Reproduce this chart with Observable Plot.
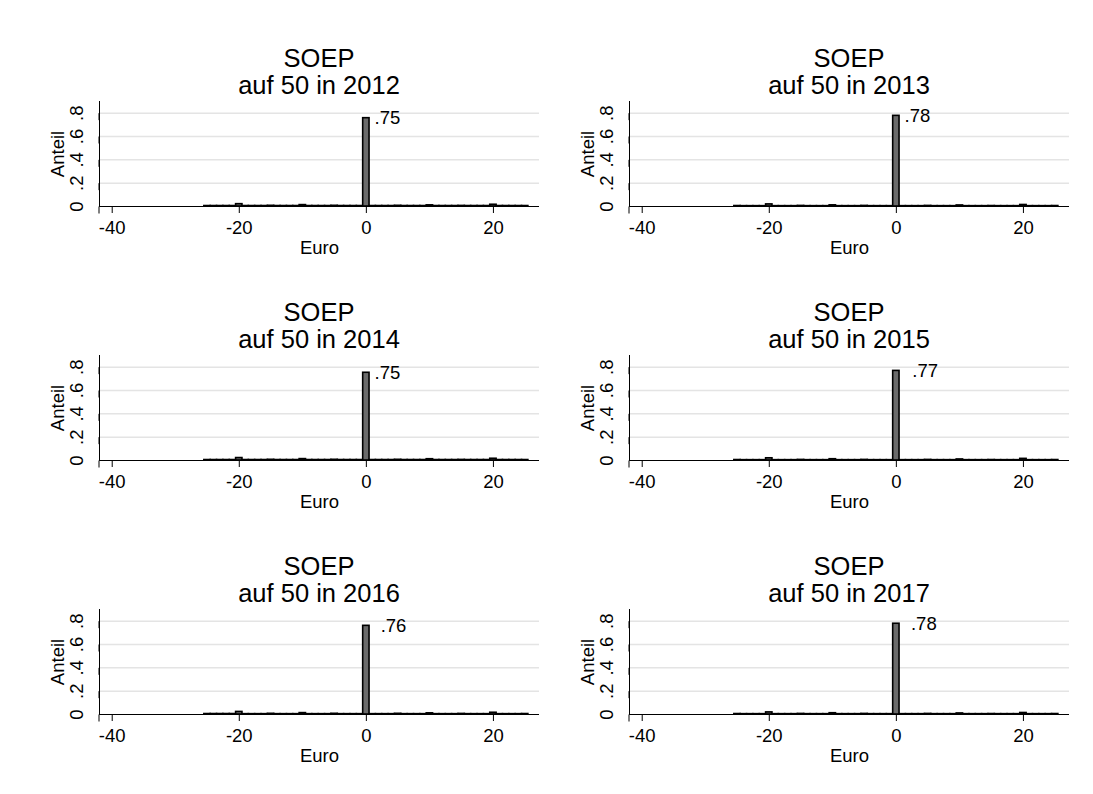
<!DOCTYPE html>
<html><head><meta charset="utf-8">
<script src="https://cdn.jsdelivr.net/npm/d3@7"></script>
<script src="https://cdn.jsdelivr.net/npm/@observablehq/plot@0.6"></script>
<style>
body{margin:0;background:#fff;}
#chart{position:relative;width:1093px;height:794px;background:#fff;font-family:"Liberation Sans",Arial,sans-serif;overflow:hidden;}
.title{position:absolute;width:400px;text-align:center;font-size:25.5px;line-height:27px;color:#000;}
.panel{position:absolute;}
.panel svg{overflow:visible;}
</style></head><body><div id="chart"></div>
<script>
const years = [2012, 2013, 2014, 2015, 2016, 2017];
const titleTop = "SOEP";
const subtitlePrefix = "auf 50 in ";
const euro = [-25,-24,-23,-22,-21,-20,-19,-18,-17,-16,-15,-14,-13,-12,-11,-10,-9,-8,-7,-6,-5,-4,-3,-2,-1,
  0,1,2,3,4,5,6,7,8,9,10,11,12,13,14,15,16,17,18,19,20,21,22,23,24,25];
const share2012 = [.004,.004,.004,.004,.004, .020,.004,.004,.004,.004, .006,.004,.004,.004,.004, .012,.004,.004,.004,.004, .006,.004,.004,.004,.004,
  .757, .004,.004,.004,.004,.006, .004,.004,.004,.004,.010, .004,.004,.004,.004,.005, .004,.004,.004,.004,.015, .004,.004,.004,.004,.004];
const share2013 = [.004,.003,.003,.003,.003, .018,.003,.003,.003,.003, .005,.003,.003,.003,.003, .010,.003,.003,.003,.003, .005,.003,.003,.003,.003,
  .777, .003,.003,.003,.003,.005, .003,.003,.003,.003,.009, .003,.003,.003,.003,.004, .003,.003,.003,.003,.013, .003,.003,.003,.003,.004];
const share2014 = [.004,.004,.004,.004,.004, .021,.004,.004,.004,.004, .006,.004,.004,.004,.004, .012,.004,.004,.004,.004, .006,.004,.004,.004,.004,
  .752, .004,.004,.004,.004,.006, .004,.004,.004,.004,.011, .004,.004,.004,.004,.005, .004,.004,.004,.004,.015, .004,.004,.004,.004,.004];
const share2015 = [.004,.003,.003,.003,.003, .019,.003,.003,.003,.003, .005,.003,.003,.003,.003, .011,.003,.003,.003,.003, .005,.003,.003,.003,.003,
  .768, .003,.003,.003,.003,.005, .003,.003,.003,.003,.009, .003,.003,.003,.003,.004, .003,.003,.003,.003,.014, .003,.003,.003,.003,.004];
const share2016 = [.004,.004,.004,.004,.004, .022,.003,.003,.003,.003, .006,.003,.003,.003,.003, .012,.003,.003,.003,.003, .006,.003,.003,.003,.003,
  .760, .003,.003,.003,.003,.006, .003,.003,.003,.003,.010, .003,.003,.003,.003,.005, .003,.003,.003,.003,.015, .003,.003,.003,.003,.004];
const share2017 = [.004,.003,.003,.003,.003, .018,.003,.003,.003,.003, .005,.003,.003,.003,.003, .011,.003,.003,.003,.003, .005,.003,.003,.003,.003,
  .778, .003,.003,.003,.003,.005, .003,.003,.003,.003,.009, .003,.003,.003,.003,.004, .003,.003,.003,.003,.013, .003,.003,.003,.003,.004];
const shares = [share2012, share2013, share2014, share2015, share2016, share2017];
const peakLabels = [".75", ".78", ".75", ".77", ".76", ".78"];
const labelX = [1.3, 1.3, 1.3, 2.5, 2.25, 2.3];
const xTicks = [-40, -20, 0, 20];
const yTicks = [0, .2, .4, .6, .8];
const yTickLabels = ["0", ".2", ".4", ".6", ".8"];
const xDomain = [-42, 27.25];
const yDomain = [0, 0.9];

const chart = document.getElementById("chart");
const colLeft = [0, 530];
const rowTop = [95, 349, 603];
const titleRowTop = [45, 299, 553];

years.forEach((yr, i) => {
  const col = i % 2, row = Math.floor(i / 2);
  const t = document.createElement("div");
  t.className = "title";
  t.style.left = (colLeft[col] + 319 - 200) + "px";
  t.style.top = titleRowTop[row] + "px";
  t.innerHTML = titleTop + "<br>" + subtitlePrefix + yr;
  chart.appendChild(t);

  const data = euro.map((x, j) => ({x, share: shares[i][j]}));
  const peak = data.find(d => d.x === 0).share;
  const svg = Plot.plot({
    width: 560, height: 6 + 105 + 58,
    marginTop: 6, marginBottom: 58, marginLeft: 99, marginRight: 21,
    x: {domain: xDomain},
    y: {domain: yDomain},
    style: {fontFamily: '"Liberation Sans", Arial, sans-serif', fontSize: "18px", color: "#000", background: "transparent", overflow: "visible"},
    marks: [
      Plot.ruleY(yTicks.slice(1), {stroke: "#e4e4e4", strokeWidth: 1.5}),
      Plot.ruleY([0], {stroke: "#000", strokeWidth: 1}),
      Plot.ruleX([xDomain[0]], {stroke: "#000", strokeWidth: 1}),
      Plot.rect(data, {x1: d => d.x - 0.5, x2: d => d.x + 0.5, y1: 0, y2: "share", fill: "#6b6b6b", stroke: "#000", strokeWidth: 1.6}),
      Plot.text([{x: labelX[i], y: peak, t: peakLabels[i]}], {x: "x", y: "y", text: "t", textAnchor: "start", lineAnchor: "middle", fontSize: 18.5, fill: "#000"}),
      Plot.axisX({ticks: xTicks, tickSize: 7, tickPadding: 7, fontSize: 18.5, tickFormat: d => String(d).replace("\u2212", "-"), label: "Euro", labelAnchor: "center", labelArrow: "none", labelOffset: 47}),
      Plot.axisY({ticks: yTicks, tickSize: 7, tickPadding: 15, fontSize: 18.5, rotate: -90, textAnchor: "middle", tickFormat: d => yTickLabels[yTicks.indexOf(d)], label: "Anteil", labelAnchor: "center", labelArrow: "none", labelOffset: 49})
    ]
  });
  const p = document.createElement("div");
  p.className = "panel";
  p.style.left = colLeft[col] + "px";
  p.style.top = rowTop[row] + "px";
  p.appendChild(svg);
  chart.appendChild(p);
});
</script>
</body></html>
